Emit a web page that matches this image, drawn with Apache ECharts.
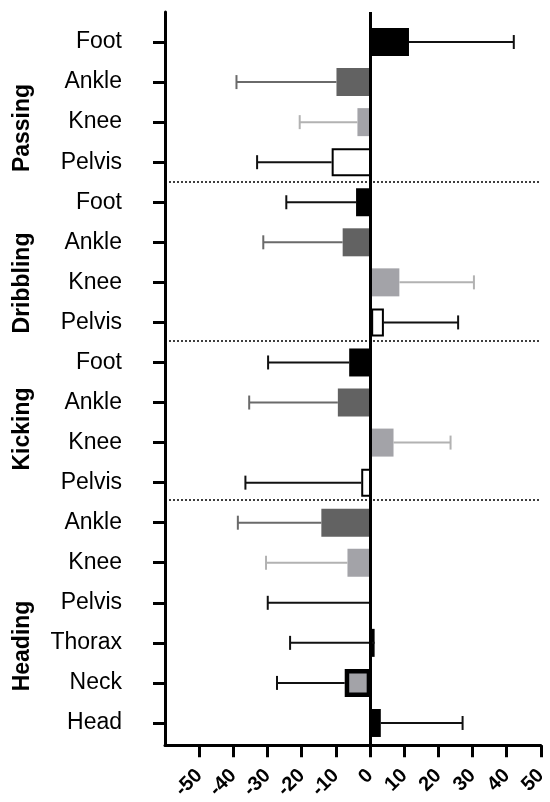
<!DOCTYPE html>
<html>
<head>
<meta charset="utf-8">
<script src="https://cdn.jsdelivr.net/npm/echarts@6/dist/echarts.min.js"></script>
<style>html,body{margin:0;padding:0;background:#fff}#main{width:550px;height:802px}</style>
</head>
<body>
<div id="main"></div>
<script>
// rows, top to bottom
var groups = ['Passing', 'Dribbling', 'Kicking', 'Heading'];
var rowGroup = [0,0,0,0, 1,1,1,1, 2,2,2,2, 3,3,3,3,3,3];
var joints = ['Foot','Ankle','Knee','Pelvis', 'Foot','Ankle','Knee','Pelvis',
              'Foot','Ankle','Knee','Pelvis', 'Ankle','Knee','Pelvis','Thorax','Neck','Head'];
// bar values (mean) and where the one-sided error bar ends
var means   = [11.0, -10.1, -4.0, -11.5,  -4.4, -8.3, 8.2, 3.7,  -6.4, -9.7, 6.5, -2.9,  -14.5, -6.9, -0.5, 1.0, -7.7, 2.8];
var errEnds = [41.5, -39.2, -20.8, -33.2,  -24.7, -31.4, 29.9, 25.3,  -30.0, -35.5, 23.1, -36.6,  -38.8, -30.6, -30.1, -23.6, -27.4, 26.6];
var xTicks = [-50, -40, -30, -20, -10, 0, 10, 20, 30, 40, 50];
// dotted separators between the groups, in row units
var separators = [3.5, 7.5, 11.5];

var FONT = 'Arial, "Liberation Sans", sans-serif';

// look of each joint
var jointStyle = {
    Foot:   { fill: '#000000', border: '#000000', bw: 0,   err: '#111111' },
    Ankle:  { fill: '#626262', border: '#626262', bw: 0,   err: '#6a6a6a' },
    Knee:   { fill: '#a3a3a8', border: '#a3a3a8', bw: 0,   err: '#b2b2b2' },
    Pelvis: { fill: '#ffffff', border: '#000000', bw: 2,   err: '#111111' },
    Thorax: { fill: '#000000', border: '#000000', bw: 0,   err: '#111111' },
    Neck:   { fill: '#a3a3a8', border: '#000000', bw: 4.5, err: '#111111' },
    Head:   { fill: '#000000', border: '#000000', bw: 0,   err: '#111111' }
};

var rowKeys = joints.map(function (j, i) { return groups[rowGroup[i]] + '|' + j; });

var barData = means.map(function (v, i) {
    var s = jointStyle[joints[i]];
    return { value: v, itemStyle: { color: s.fill, borderColor: s.border, borderWidth: s.bw } };
});

var errData = means.map(function (v, i) { return [v, errEnds[i], i]; });

function renderErr(params, api) {
    var i = api.value(2);
    var a = api.coord([api.value(0), i]);
    var b = api.coord([api.value(1), i]);
    var c = jointStyle[joints[i]].err;
    return {
        type: 'group',
        children: [
            { type: 'line', shape: { x1: a[0], y1: a[1], x2: b[0], y2: b[1] },
              style: { stroke: c, lineWidth: 2 } },
            { type: 'line', shape: { x1: b[0], y1: b[1] - 7, x2: b[0], y2: b[1] + 7 },
              style: { stroke: c, lineWidth: 2 } }
        ]
    };
}

var markLines = separators.map(function (s) {
    return { yAxis: s, lineStyle: { color: '#000', width: 1.5, type: [2, 2] } };
});
markLines.push({ xAxis: 0, lineStyle: { color: '#000', width: 3, type: 'solid' } });

var myChart = echarts.init(document.getElementById('main'));

var option = {
    animation: false,
    backgroundColor: '#fff',
    grid: [
        { left: 165, right: 7, top: 12, bottom: 52 },
        { left: 165, right: 7, top: 22, height: 721 }
    ],
    xAxis: [{
        gridIndex: 0, type: 'value', min: -60, max: 50,
        axisLine: { show: true, onZero: false, lineStyle: { color: '#000', width: 3 } },
        axisTick: { show: true, length: 12, lineStyle: { color: '#000', width: 3 }, customValues: xTicks },
        axisLabel: { customValues: xTicks, rotate: 45, margin: 27, fontSize: 20, fontWeight: 'bold',
                     color: '#000', fontFamily: FONT },
        splitLine: { show: false }
    }, {
        gridIndex: 1, type: 'value', min: -60, max: 50, show: false
    }],
    yAxis: [{
        // frame axis in row units, same scale as the rows below
        gridIndex: 0, type: 'value', inverse: true, min: -0.756, max: 17.67,
        axisLine: { show: true, onZero: false, lineStyle: { color: '#000', width: 3 } },
        axisTick: { show: false }, axisLabel: { show: false }, splitLine: { show: false }
    }, {
        gridIndex: 1, type: 'category', inverse: true, data: rowKeys,
        axisLine: { show: false, onZero: false },
        axisTick: { show: true, alignWithLabel: true, length: 12, lineStyle: { color: '#000', width: 3 } },
        axisLabel: {
            margin: 43, fontSize: 23, color: '#000', fontFamily: FONT,
            formatter: function (v) { return v.split('|')[1]; }
        },
        splitLine: { show: false }
    }],
    graphic: groups.map(function (g, k) {
        var yc = [128, 283, 429, 646][k];
        return {
            type: 'text', x: 23, y: yc, rotation: Math.PI / 2,
            style: { text: g, fontSize: 23, fontWeight: 'bold', fontFamily: FONT, fill: '#000',
                     textAlign: 'center', textVerticalAlign: 'middle' }
        };
    }),
    series: [{
        type: 'bar', xAxisIndex: 1, yAxisIndex: 1,
        barWidth: 28, data: barData, z: 2
    }, {
        type: 'custom', xAxisIndex: 1, yAxisIndex: 1,
        renderItem: renderErr, encode: { x: [0, 1], y: 2 },
        data: errData, z: 3
    }, {
        type: 'scatter', xAxisIndex: 0, yAxisIndex: 0, data: [],
        markLine: {
            silent: true, symbol: 'none', label: { show: false }, z: 5,
            data: markLines
        }
    }]
};

myChart.setOption(option);
</script>
</body>
</html>
